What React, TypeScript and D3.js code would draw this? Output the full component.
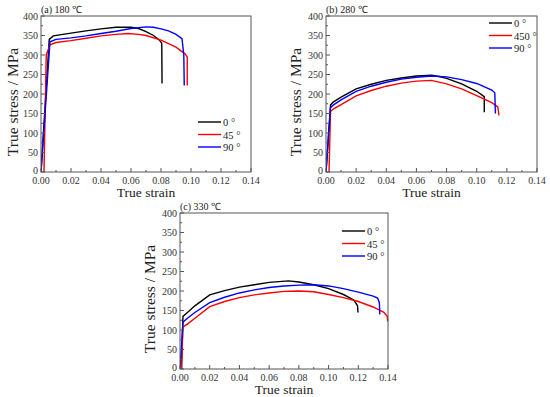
import React from "react";
import * as d3 from "d3";

// strain ticks and stress ticks shared by the three panels
const strainTicks = [0, 0.02, 0.04, 0.06, 0.08, 0.1, 0.12, 0.14];
const stressTicks = [0, 50, 100, 150, 200, 250, 300, 350, 400];

// (a) 180 °C  [strain, stress]
const a0: [number, number][] = [[0, 0], [0.0055, 340], [0.0082, 349], [0.02, 356], [0.03, 362], [0.04, 367], [0.05, 371], [0.06, 371], [0.065, 368], [0.07, 360], [0.075, 350], [0.079, 338], [0.0805, 330], [0.0807, 227]];
const a45: [number, number][] = [[0.002, 0], [0.0035, 300], [0.006, 326], [0.01, 332], [0.02, 337], [0.03, 343], [0.04, 349], [0.05, 353], [0.058, 355], [0.065, 353], [0.07, 350], [0.08, 338], [0.09, 320], [0.096, 303], [0.0975, 295], [0.0975, 222]];
const a90: [number, number][] = [[0, 0], [0.006, 334], [0.01, 340], [0.02, 344], [0.03, 349], [0.04, 355], [0.05, 361], [0.06, 368], [0.07, 372], [0.075, 371], [0.08, 367], [0.085, 362], [0.09, 353], [0.094, 342], [0.0952, 300], [0.0955, 222]];

// (b) 280 °C
const b0: [number, number][] = [[0, 0], [0.003, 172], [0.005, 180], [0.01, 192], [0.02, 213], [0.03, 225], [0.04, 235], [0.05, 241], [0.06, 246], [0.07, 248], [0.075, 245], [0.08, 240], [0.09, 226], [0.1, 207], [0.105, 193], [0.105, 153]];
const b45: [number, number][] = [[0.002, 0], [0.003, 155], [0.005, 162], [0.01, 173], [0.02, 195], [0.03, 209], [0.04, 220], [0.05, 228], [0.06, 233], [0.07, 235], [0.08, 226], [0.09, 213], [0.1, 196], [0.11, 178], [0.114, 167], [0.1148, 145]];
const b90: [number, number][] = [[0, 0], [0.003, 165], [0.005, 172], [0.01, 185], [0.02, 207], [0.03, 220], [0.04, 230], [0.05, 238], [0.06, 243], [0.07, 246], [0.08, 244], [0.09, 237], [0.1, 227], [0.11, 210], [0.112, 203], [0.1124, 150]];

// (c) 330 °C
const c0: [number, number][] = [[0.001, 0], [0.002, 135], [0.005, 145], [0.01, 162], [0.02, 190], [0.03, 201], [0.04, 210], [0.05, 216], [0.06, 222], [0.073, 226], [0.08, 223], [0.09, 216], [0.1, 206], [0.11, 191], [0.117, 177], [0.1195, 162], [0.1198, 145]];
const c45: [number, number][] = [[0.001, 0], [0.002, 108], [0.005, 115], [0.01, 130], [0.02, 160], [0.03, 173], [0.04, 183], [0.05, 190], [0.06, 195], [0.07, 199], [0.08, 200], [0.09, 198], [0.1, 191], [0.11, 183], [0.12, 173], [0.13, 159], [0.137, 146], [0.1395, 135], [0.1398, 122]];
const c90: [number, number][] = [[0, 0], [0.002, 120], [0.005, 130], [0.01, 145], [0.02, 170], [0.03, 184], [0.04, 195], [0.05, 203], [0.06, 209], [0.07, 213], [0.08, 215], [0.09, 216], [0.1, 213], [0.11, 206], [0.12, 197], [0.13, 187], [0.133, 182], [0.1342, 170], [0.1345, 140]];

const colors = ["#000000", "#ff0000", "#0000ff"];

const panels = [
  { title: "(a) 180  \u2103", x0: 41, x1: 251, y0: 16, y1: 172, series: [a0, a45, a90], labels: ["0 \u00b0", "45 \u00b0", "90 \u00b0"], leg: { x: 198, y: 122 }, ytitleX: 14 },
  { title: "(b) 280 \u2103", x0: 326, x1: 537, y0: 16, y1: 172, series: [b0, b45, b90], labels: ["0 \u00b0", "450 \u00b0", "90 \u00b0"], leg: { x: 489, y: 23 }, ytitleX: 297 },
  { title: "(c) 330  \u2103", x0: 180, x1: 388, y0: 213, y1: 369, series: [c0, c45, c90], labels: ["0 \u00b0", "45 \u00b0", "90 \u00b0"], leg: { x: 342, y: 231 }, ytitleX: 151 },
];

const font = "'Liberation Serif', 'Times New Roman', serif";

function Panel({ p }: { p: (typeof panels)[number] }) {
  const x = d3.scaleLinear().domain([0, 0.14]).range([p.x0, p.x1]);
  const y = d3.scaleLinear().domain([0, 400]).range([p.y1, p.y0]);
  const line = d3.line<[number, number]>().x((d) => x(d[0])).y((d) => y(d[1]));
  const minorX = d3.range(0.01, 0.14, 0.02);
  const minorY = d3.range(25, 400, 50);
  return (
    <g fontFamily={font}>
      <defs>
        <clipPath id={"clip" + p.x0}>
          <rect x={p.x0} y={p.y0 - 2} width={p.x1 - p.x0 + 2} height={p.y1 - p.y0 + 2} />
        </clipPath>
      </defs>
      <g clipPath={`url(#clip${p.x0})`}>
        {p.series.map((s, i) => (
          <path key={i} d={line(s) || ""} fill="none" stroke={colors[i]} strokeWidth={1.4} />
        ))}
      </g>
      <rect x={p.x0} y={p.y0} width={p.x1 - p.x0} height={p.y1 - p.y0} fill="none" stroke="#555" strokeWidth={1} />
      {strainTicks.map((t) => (
        <g key={t}>
          <line x1={x(t)} x2={x(t)} y1={p.y1} y2={p.y1 - 4} stroke="#555" />
          <text x={x(t)} y={p.y1 + 11.5} fontSize={10} textAnchor="middle" fill="#333">
            {d3.format(".2f")(t)}
          </text>
        </g>
      ))}
      {minorX.map((t) => (
        <line key={t} x1={x(t)} x2={x(t)} y1={p.y1} y2={p.y1 - 2} stroke="#555" />
      ))}
      {stressTicks.map((t) => (
        <g key={t}>
          <line x1={p.x0} x2={p.x0 + 4} y1={y(t)} y2={y(t)} stroke="#555" />
          <text x={p.x0 - 3} y={y(t) + (t === 0 ? 2 : 3.5)} fontSize={10} textAnchor="end" fill="#333">
            {t}
          </text>
        </g>
      ))}
      {minorY.map((t) => (
        <line key={t} x1={p.x0} x2={p.x0 + 2} y1={y(t)} y2={y(t)} stroke="#555" />
      ))}
      <text x={p.x0} y={p.y0 - 3} fontSize={10} fill="#222">
        {p.title}
      </text>
      <text x={(p.x0 + p.x1) / 2} y={p.y1 + 25} fontSize={13.5} textAnchor="middle" fill="#222">
        True strain
      </text>
      <text
        transform={`translate(${p.ytitleX},${(p.y0 + p.y1) / 2 + 8}) rotate(-90)`}
        fontSize={15.5}
        textAnchor="middle"
        dominantBaseline="middle"
        fill="#222"
      >
        True stress / MPa
      </text>
      {p.labels.map((l, i) => (
        <g key={l}>
          <line x1={p.leg.x} x2={p.leg.x + 23} y1={p.leg.y + i * 12.5} y2={p.leg.y + i * 12.5} stroke={colors[i]} strokeWidth={1.4} />
          <text x={p.leg.x + 25} y={p.leg.y + i * 12.5 + 4} fontSize={10.5} fill="#222">
            {l}
          </text>
        </g>
      ))}
    </g>
  );
}

export default function App() {
  return (
    <svg width={550} height={397} style={{ position: "absolute", left: 0, top: 0, background: "#fff" }}>
      <rect width={550} height={397} fill="#fff" />
      {panels.map((p) => (
        <Panel key={p.title} p={p} />
      ))}
    </svg>
  );
}
